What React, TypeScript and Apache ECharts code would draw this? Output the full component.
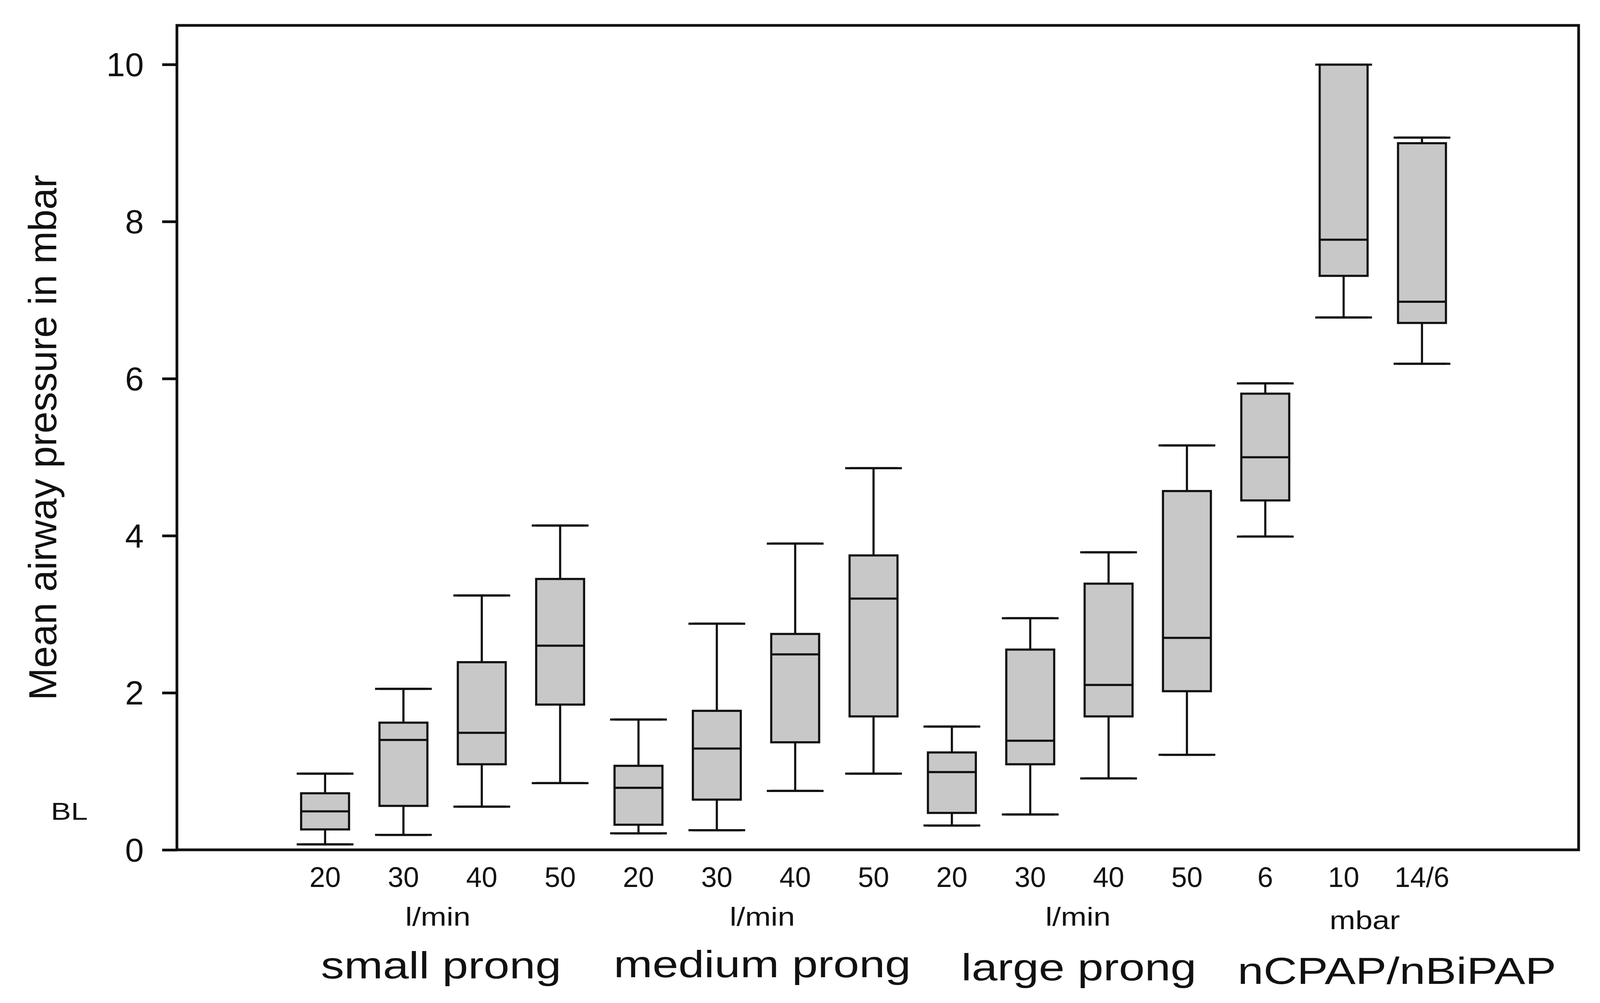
import React, { useEffect, useRef } from "react";
import * as echarts from "echarts";

// ---- data ----
const categoryKeys = ["s20", "s30", "s40", "s50", "m20", "m30", "m40", "m50", "l20", "l30", "l40", "l50", "c6", "c10", "b14"];
const tickLabels = ["20", "30", "40", "50", "20", "30", "40", "50", "20", "30", "40", "50", "6", "10", "14/6"];
const whiskerLow = [0.07, 0.19, 0.55, 0.85, 0.21, 0.25, 0.75, 0.97, 0.31, 0.45, 0.91, 1.21, 3.99, 6.78, 6.19];
const quartile1 = [0.26, 0.56, 1.09, 1.85, 0.32, 0.64, 1.37, 1.7, 0.47, 1.09, 1.7, 2.02, 4.45, 7.31, 6.71];
const medians = [0.49, 1.4, 1.49, 2.6, 0.79, 1.29, 2.49, 3.2, 0.99, 1.39, 2.1, 2.7, 5.0, 7.77, 6.98];
const quartile3 = [0.72, 1.62, 2.39, 3.45, 1.07, 1.77, 2.75, 3.75, 1.24, 2.55, 3.39, 4.57, 5.81, 10.0, 9.0];
const whiskerHigh = [0.97, 2.05, 3.24, 4.13, 1.66, 2.88, 3.9, 4.86, 1.57, 2.95, 3.79, 5.15, 5.94, 10.0, 9.07];
const yTicks = [0, 2, 4, 6, 8, 10];
const unitLabels = ["l/min", "l/min", "l/min", "mbar"];
const groupLabels = ["small prong", "medium prong", "large prong", "nCPAP/nBiPAP"];
const baselineLabel = "BL";
const baselineValue = 0.49;
const yTitle = "Mean airway pressure in mbar";

// ---- layout (not data), designed on a 4341 x 2567 canvas ----
const REF_W = 4341;
const REF_H = 2567;
const FONT = "'Liberation Sans', Arial, Helvetica, sans-serif";
const INK = "#111111";
const unitPos = [1.44, 5.58, 9.61, 13.27];
const unitY = [2346, 2346, 2346, 2355];
const groupPos = [1.48, 5.58, 9.62, 13.68];
const groupY = [2470, 2467, 2475, 2484];

export default function App() {
  const ref = useRef<HTMLDivElement>(null);
  const W = typeof window !== "undefined" ? Math.min(window.innerWidth || REF_W, REF_W) : REF_W;
  const H = REF_H;

  useEffect(() => {
    if (!ref.current) return;
    const sx = W / REF_W;
    const chart = echarts.init(ref.current, undefined, { renderer: "svg", width: W, height: H });
    const boxData = categoryKeys.map((_, i) => [whiskerLow[i], quartile1[i], medians[i], quartile3[i], whiskerHigh[i]]);
    const capData = categoryKeys.map((_, i) => [i, whiskerLow[i], whiskerHigh[i]]);
    const capHalf = 77 * sx;

    chart.setOption({
      animation: false,
      backgroundColor: "#ffffff",
      grid: [
        {
          left: 480 * sx,
          top: 65,
          width: 3803 * sx,
          height: 2110,
          show: true,
          borderColor: INK,
          borderWidth: 7,
          backgroundColor: "transparent",
        },
        { left: 775.7 * sx, top: 65, width: 3188.6 * sx, height: 2110 },
      ],
      xAxis: [
        { gridIndex: 0, type: "value", min: 0, max: 1, show: false },
        {
          gridIndex: 1,
          type: "category",
          data: categoryKeys,
          boundaryGap: true,
          axisLine: { show: false },
          axisTick: { show: false },
          splitLine: { show: false },
          axisLabel: {
            interval: 0,
            margin: 34,
            fontSize: 72,
            fontFamily: FONT,
            color: INK,
            formatter: (_v: string, i: number) => tickLabels[i],
          },
        },
      ],
      yAxis: [
        {
          gridIndex: 0,
          type: "value",
          min: 0,
          max: 10.5,
          interval: 2,
          axisLine: { show: false },
          splitLine: { show: false },
          axisTick: {
            show: true,
            inside: false,
            length: 40 * sx,
            lineStyle: { color: INK, width: 7 },
            customValues: yTicks,
          },
          axisLabel: {
            customValues: yTicks,
            margin: 90 * sx,
            fontSize: 86,
            fontFamily: FONT,
            color: INK,
          },
          name: yTitle,
          nameLocation: "middle",
          nameGap: 312 * sx,
          nameTextStyle: { fontSize: 100, fontFamily: FONT, color: INK },
        },
        { gridIndex: 1, type: "value", min: 0, max: 10.5, show: false },
      ],
      series: [
        {
          type: "boxplot",
          xAxisIndex: 1,
          yAxisIndex: 1,
          data: boxData,
          boxWidth: [130 * sx, 130 * sx],
          silent: true,
          itemStyle: { color: "#c8c8c8", borderColor: INK, borderWidth: 5.5 },
          emphasis: { disabled: true },
        },
        {
          type: "custom",
          xAxisIndex: 1,
          yAxisIndex: 1,
          data: capData,
          silent: true,
          encode: { x: 0, y: [1, 2] },
          renderItem: (_params: any, api: any) => {
            const lo = api.coord([api.value(0), api.value(1)]);
            const hi = api.coord([api.value(0), api.value(2)]);
            const st = { stroke: INK, lineWidth: 5.5 };
            return {
              type: "group",
              children: [
                { type: "line", shape: { x1: lo[0] - capHalf, y1: lo[1], x2: lo[0] + capHalf, y2: lo[1] }, style: st },
                { type: "line", shape: { x1: hi[0] - capHalf, y1: hi[1], x2: hi[0] + capHalf, y2: hi[1] }, style: st },
              ],
            };
          },
        },
      ],
    });

    const p0 = chart.convertToPixel({ xAxisIndex: 1 }, 0) as number;
    const p1 = chart.convertToPixel({ xAxisIndex: 1 }, 1) as number;
    const step = p1 - p0;
    const xAt = (f: number) => p0 + f * step;
    const blY = chart.convertToPixel({ yAxisIndex: 0 }, baselineValue) as number;

    const txt = (text: string, x: number, y: number, size: number, stretch: number) => ({
      type: "text",
      x,
      y,
      scaleX: stretch * sx,
      silent: true,
      style: {
        text,
        fontSize: size,
        fontFamily: FONT,
        fill: INK,
        align: "center",
        verticalAlign: "middle",
        textAlign: "center",
        textVerticalAlign: "middle",
      },
    });

    const elements: any[] = [];
    unitLabels.forEach((t, i) => elements.push(txt(t, xAt(unitPos[i]), unitY[i], 66, 1.27)));
    groupLabels.forEach((t, i) => elements.push(txt(t, xAt(groupPos[i]), groupY[i], 97, 1.3)));
    elements.push(txt(baselineLabel, 188 * sx, blY, 63, 1.3));

    chart.setOption({ graphic: { elements } });

    return () => chart.dispose();
  }, []);

  return (
    <div
      ref={ref}
      style={{ position: "absolute", left: 0, top: 0, width: W, height: H, background: "#ffffff" }}
    />
  );
}
